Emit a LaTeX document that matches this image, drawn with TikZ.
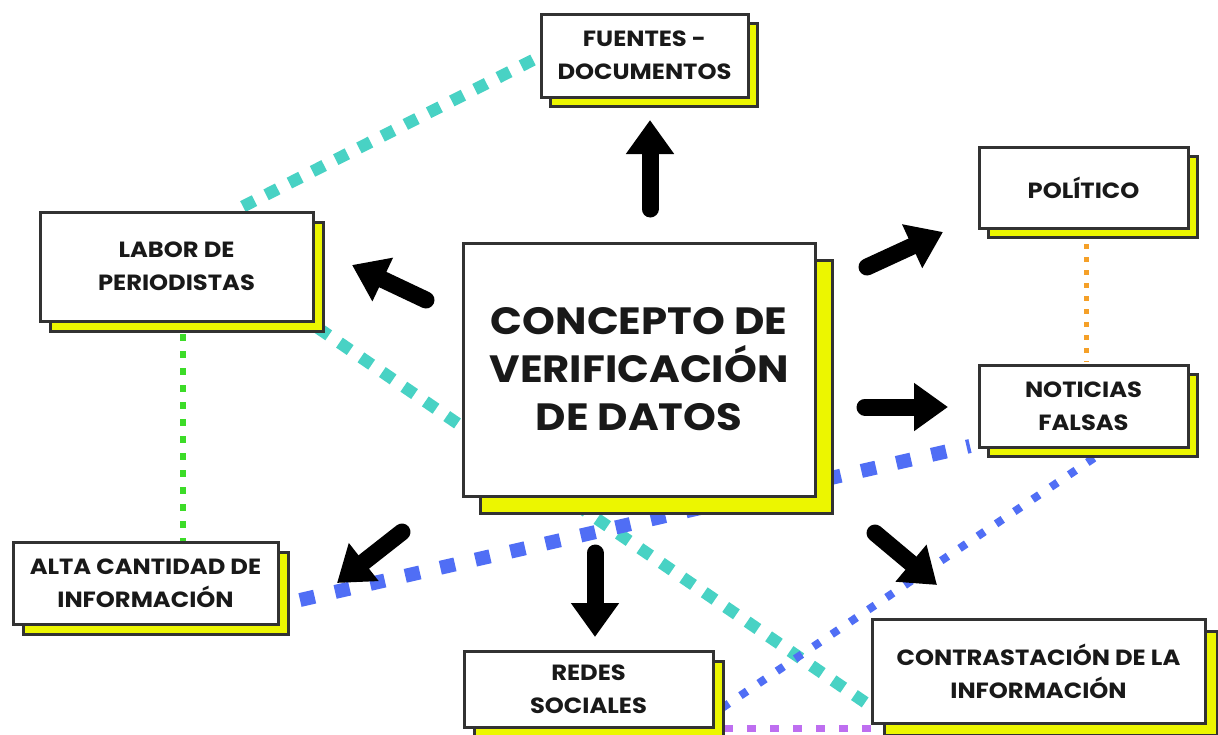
\documentclass[tikz,border=0pt]{standalone}
\usepackage{fontspec}
\setmainfont[FakeStretch=1.1]{Poppins}
\usetikzlibrary{arrows.meta,backgrounds}
\definecolor{boxline}{RGB}{50,50,50}
\definecolor{shadowy}{RGB}{236,246,0}
\definecolor{textc}{RGB}{25,25,25}
\definecolor{tealc}{RGB}{72,210,196}
\definecolor{bluec}{RGB}{80,110,245}
\definecolor{greenc}{RGB}{60,220,40}
\definecolor{orangec}{RGB}{245,160,40}
\definecolor{purplec}{RGB}{190,110,240}
\tikzset{
  cbox/.style={draw=boxline, line width=3pt, fill=white, inner sep=0pt, align=center,
    text=textc, font=\bfseries\fontsize{22}{33}\selectfont,
    preaction={draw=boxline, fill=shadowy, line width=3pt,
      transform canvas={xshift=#1, yshift=-#1}}},
  arr/.style={draw=black, line width=17pt, line cap=round, -{Triangle[width=46pt,length=34pt]}},
  tealdash/.style={draw=tealc, line width=12pt, dash pattern=on 13pt off 13pt},
  bluedash/.style={draw=bluec, line width=14pt, dash pattern=on 15pt off 21pt},
  bluedot/.style={draw=bluec, line width=8pt, dash pattern=on 8pt off 14pt},
  greendot/.style={draw=greenc, line width=6pt, dash pattern=on 7pt off 10pt},
  orangedot/.style={draw=orangec, line width=5pt, dash pattern=on 5pt off 8pt},
  purpledash/.style={draw=purplec, line width=7pt, dash pattern=on 9pt off 14pt}
}
\begin{document}
\begin{tikzpicture}[x=1pt,y=-1pt]
\useasboundingbox (0,0) rectangle (1218,734);

% nodes
\node[cbox=17pt, minimum width=352pt, minimum height=253pt,
      font=\bfseries\fontsize{38}{48}\selectfont] (center) at (639,369.5)
      {CONCEPTO DE\\VERIFICACIÓN\\DE DATOS};
\node[cbox=9pt, minimum width=207pt, minimum height=83pt] (fuentes) at (644.5,55.5) {FUENTES -\\DOCUMENTOS};
\node[cbox=9pt, minimum width=209pt, minimum height=81pt] (politico) at (1083.5,187.5) {POLÍTICO};
\node[cbox=9pt, minimum width=209pt, minimum height=82pt] (noticias) at (1083.5,406) {NOTICIAS\\FALSAS};
\node[cbox=10pt, minimum width=273pt, minimum height=109pt] (labor) at (176.5,266.5) {LABOR DE\\PERIODISTAS};
\node[cbox=10pt, minimum width=265pt, minimum height=82pt] (alta) at (145.5,583) {ALTA CANTIDAD DE\\INFORMACIÓN};
\node[cbox=10pt, minimum width=249pt, minimum height=76pt] (redes) at (588.5,689) {REDES\\SOCIALES};
\node[cbox=12pt, minimum width=333pt, minimum height=104pt] (contra) at (1038.5,671) {CONTRASTACIÓN DE LA\\INFORMACIÓN};

% connector end points
\coordinate (t1a) at (533,60);
\coordinate (t1b) at (234,211);
\coordinate (t2a) at (318,328);
\coordinate (t2b) at (866,703);
\coordinate (b1a) at (300,600);
\coordinate (b1b) at (970,446);
\coordinate (b2a) at (1094,458);
\coordinate (b2b) at (722,708);
\coordinate (pa) at (724,728);
\coordinate (pb) at (872,728);
\coordinate (ga) at (183,300);
\coordinate (gb) at (183,541);
\coordinate (oa) at (1086,244);
\coordinate (ob) at (1086,362);

\begin{scope}[on background layer]
  \fill[white] (0,0) rectangle (1218,734);
  \draw[tealdash] (t1a) -- (t1b);
  \draw[tealdash] (t2a) -- (t2b);
  \draw[bluedash] (b1a) -- (b1b);
  \draw[bluedot] (b2a) -- (b2b);
  \draw[purpledash] (pa) -- (pb);
  \draw[greendot] (ga) -- (gb);
  \draw[orangedot] (oa) -- (ob);
\end{scope}

% arrows
\coordinate (aFs) at (650,209);  \coordinate (aFe) at (650,120);
\coordinate (aLs) at (426,300);  \coordinate (aLe) at (352,265);
\coordinate (aPs) at (867,267);  \coordinate (aPe) at (943,232);
\coordinate (aNs) at (865,407);  \coordinate (aNe) at (948,407);
\coordinate (aAs) at (402,532);  \coordinate (aAe) at (337,583);
\coordinate (aRs) at (595,553);  \coordinate (aRe) at (595,637);
\coordinate (aCs) at (875,533);  \coordinate (aCe) at (937,585);
\draw[arr] (aFs) -- (aFe);
\draw[arr] (aLs) -- (aLe);
\draw[arr] (aPs) -- (aPe);
\draw[arr] (aNs) -- (aNe);
\draw[arr] (aAs) -- (aAe);
\draw[arr] (aRs) -- (aRe);
\draw[arr] (aCs) -- (aCe);
\end{tikzpicture}
\end{document}
